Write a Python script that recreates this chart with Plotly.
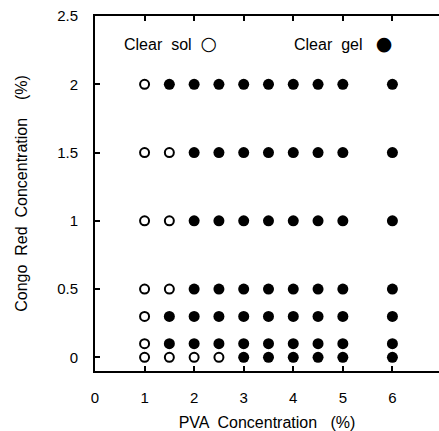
import plotly.graph_objects as go

# Clear sol (open circles): PVA %, Congo Red %
sol_pva = [1, 1, 1.5, 1, 1.5, 1, 1.5, 1, 1, 1, 1.5, 2, 2.5]
sol_cr = [2, 1.5, 1.5, 1, 1, 0.5, 0.5, 0.3, 0.1, 0, 0, 0, 0]

# Clear gel (filled circles)
gel_pva = (
    [1.5, 2, 2.5, 3, 3.5, 4, 4.5, 5, 6]
    + [2, 2.5, 3, 3.5, 4, 4.5, 5, 6]
    + [2, 2.5, 3, 3.5, 4, 4.5, 5, 6]
    + [2, 2.5, 3, 3.5, 4, 4.5, 5, 6]
    + [1.5, 2, 2.5, 3, 3.5, 4, 4.5, 5, 6]
    + [1.5, 2, 2.5, 3, 3.5, 4, 4.5, 5, 6]
    + [3, 3.5, 4, 4.5, 5, 6]
)
gel_cr = (
    [2] * 9
    + [1.5] * 8
    + [1] * 8
    + [0.5] * 8
    + [0.3] * 9
    + [0.1] * 9
    + [0] * 6
)

x_ticks = [0, 1, 2, 3, 4, 5, 6]
y_ticks = [0, 0.5, 1, 1.5, 2, 2.5]
y_tick_text = ["0", "0.5", "1", "1.5", "2", "2.5"]

font_family = "Liberation Sans, Arial, sans-serif"

fig = go.Figure()
fig.add_trace(go.Scatter(
    x=sol_pva, y=sol_cr, mode="markers", name="Clear sol",
    marker=dict(symbol="circle-open", size=9, color="black",
                line=dict(width=2, color="black")),
))
fig.add_trace(go.Scatter(
    x=gel_pva, y=gel_cr, mode="markers", name="Clear gel",
    marker=dict(symbol="circle", size=11, color="black"),
))

# In-plot key: label text followed by its symbol
key_items = [
    ("Clear  sol  ", "\u25cb", 0.079),
    ("Clear  gel   ", "\u25cf", 0.573),
]
for label, glyph, xpos in key_items:
    fig.add_annotation(
        x=xpos, y=0.925, xref="paper", yref="paper",
        text=(label + "<span style='font-family:DejaVu Sans; font-size:19px'>"
              + glyph + "</span>"),
        showarrow=False, xanchor="left", yanchor="middle",
        font=dict(family=font_family, size=16, color="black"),
    )

fig.update_layout(
    width=439, height=431,
    margin=dict(l=95, r=0, t=16, b=60),
    paper_bgcolor="white", plot_bgcolor="white",
    showlegend=False,
    font=dict(family=font_family, size=15, color="black"),
    xaxis=dict(
        range=[0, 6.94], tickvals=x_ticks, ticktext=[str(v) for v in x_ticks],
        showgrid=False, zeroline=False, showline=True, linecolor="black",
        linewidth=2, mirror="ticks", ticks="inside", ticklen=5,
        tickcolor="black", tickwidth=1.5, ticklabelstandoff=12,
        title=dict(text="PVA  Concentration   (%)", standoff=14,
                   font=dict(size=16)),
    ),
    yaxis=dict(
        range=[-0.1, 2.5], tickvals=y_ticks, ticktext=y_tick_text,
        showgrid=False, zeroline=False, showline=True, linecolor="black",
        linewidth=2, ticks="inside", ticklen=5, tickcolor="black",
        tickwidth=1.5, ticklabelstandoff=12,
        title=dict(text="Congo  Red  Concentration    (%)", standoff=26,
                   font=dict(size=16)),
    ),
)

fig.write_html("out.html")
